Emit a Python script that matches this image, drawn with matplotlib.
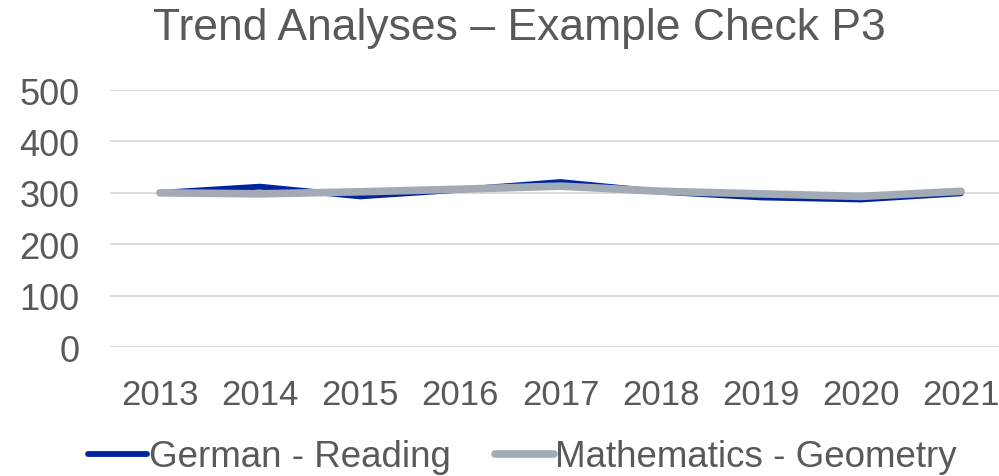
import matplotlib.pyplot as plt

plt.rcParams['font.family'] = ['Liberation Sans', 'DejaVu Sans']

# Data
years = ["2013", "2014", "2015", "2016", "2017", "2018", "2019", "2020", "2021"]
german_reading = [300, 312, 293, 306, 321, 302, 291, 287, 299]
math_geometry = [300, 298, 302, 307, 313, 303, 298, 293, 303]

text_color = "#595959"

fig = plt.figure(figsize=(9.99, 4.77), dpi=100)
ax = fig.add_axes([0.110, 0.2704, 0.902, 0.5388])

x = range(len(years))
ax.plot(x, german_reading, color="#0023a0", linewidth=4.2, solid_capstyle="round",
        label="German - Reading", zorder=3)
ax.plot(x, math_geometry, color="#a2abb5", linewidth=5.5, solid_capstyle="round",
        label="Mathematics - Geometry", zorder=4)

ax.set_xlim(-0.5, 8.5)
ax.set_ylim(0, 500)
ax.set_yticks([0, 100, 200, 300, 400, 500])
ax.set_xticks(list(x))
ax.set_xticklabels(years)
ax.grid(axis="y", color="#d9d9d9", linewidth=1.3)
ax.set_axisbelow(True)
for s in ax.spines.values():
    s.set_visible(False)
ax.tick_params(length=0, labelcolor=text_color)
ax.tick_params(axis="y", pad=22, labelsize=26)
ax.tick_params(axis="x", pad=22, labelsize=25)

fig.text(0.52, 0.94, "Trend Analyses – Example Check P3", ha="center", va="center",
         fontsize=32, color=text_color)

leg = fig.legend(loc="center", bbox_to_anchor=(0.523, 0.04), ncol=2, frameon=False,
                 fontsize=26.5, labelcolor=text_color, handlelength=1.6, handletextpad=0.05,
                 columnspacing=1.2)

plt.savefig("out.png", dpi=100)
